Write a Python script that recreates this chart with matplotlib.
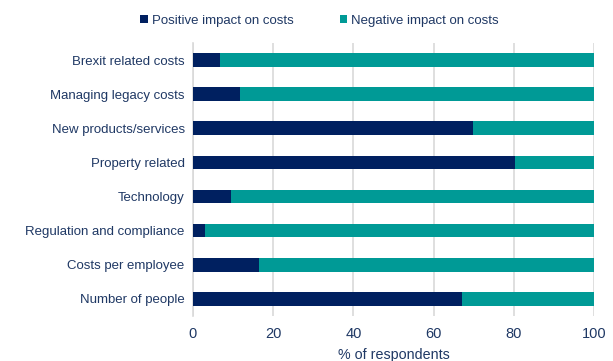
import matplotlib
matplotlib.use("Agg")
import matplotlib.pyplot as plt
import numpy as np

# --- data (top to bottom as shown) ------------------------------------------
categories = [
    "Brexit related costs",
    "Managing legacy costs",
    "New products/services",
    "Property related",
    "Technology",
    "Regulation and compliance",
    "Costs per employee",
    "Number of people",
]
positive = [6.8, 11.7, 69.8, 80.4, 9.4, 3.0, 16.4, 67.2]
negative = [100 - p for p in positive]
x_ticks = [0, 20, 40, 60, 80, 100]

NAVY = "#002060"
TEAL = "#009A96"
TEXT = "#1F3864"

plt.rcParams["font.family"] = ["Liberation Sans", "DejaVu Sans"]

fig = plt.figure(figsize=(6.13, 3.61), dpi=100)
ax = fig.add_axes([0.3148, 0.1247, 0.6542, 0.7562])

y = np.arange(len(categories))[::-1]
ax.barh(y, positive, height=0.4, color=NAVY, label="Positive impact on costs", zorder=3)
ax.barh(y, negative, left=positive, height=0.4, color=TEAL,
        label="Negative impact on costs", zorder=3)

ax.set_xlim(0, 100)
ax.set_ylim(-0.5, 7.5)
ax.set_xticks(x_ticks)
ax.set_yticks(y)
ax.set_yticklabels(categories)
ax.tick_params(axis="both", length=0, colors=TEXT)
ax.tick_params(axis="x", pad=8, labelsize=10.5)
ax.tick_params(axis="y", pad=6, labelsize=9.5)
ax.xaxis.grid(True, color="#D9D9D9", lw=1.2, zorder=0)
for side in ("top", "right", "bottom"):
    ax.spines[side].set_visible(False)
ax.spines["left"].set_color("#D9D9D9")
ax.spines["left"].set_linewidth(1.2)
ax.set_xlabel("% of respondents", color=TEXT, fontsize=10.3, labelpad=5)

fig.legend(loc="center", bbox_to_anchor=(0.521, 0.942), ncol=2,
           frameon=False, fontsize=9.5, handlelength=0.55, handleheight=0.55,
           handletextpad=0.3, columnspacing=3.5, labelcolor=TEXT)

fig.savefig("out.png", dpi=100)
